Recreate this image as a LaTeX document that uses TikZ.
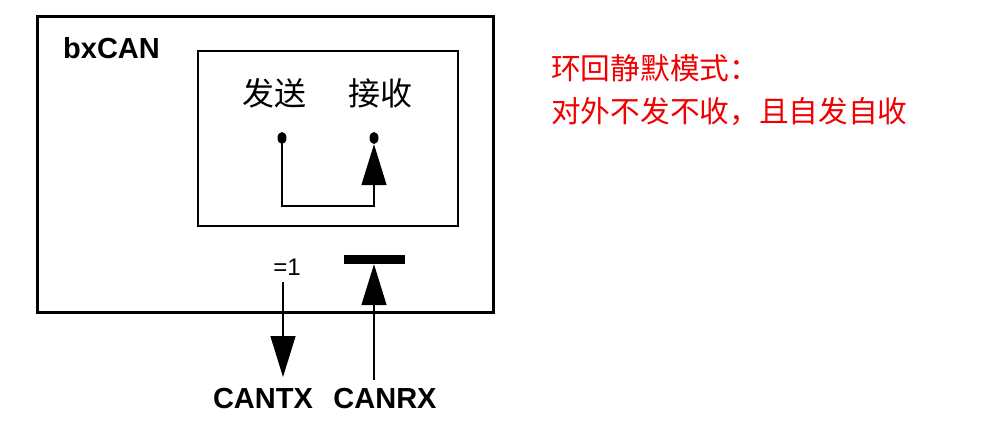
\documentclass[tikz,border=0pt]{standalone}
\usepackage{fontspec}
\setmainfont{Liberation Sans}
\newfontfamily\cjk{Noto Sans CJK SC}
\usetikzlibrary{arrows.meta,shapes.geometric}
\definecolor{notered}{RGB}{240,0,0}
\tikzset{
  outerbox/.style={draw=black, line width=3pt},
  innerbox/.style={draw=black, line width=1.4pt},
  wire/.style={draw=black, line width=1.4pt},
  bigtip/.style={-{Triangle[length=41pt,width=25pt]}},
  dotnode/.style={ellipse, fill=black, minimum width=9pt, minimum height=12pt, inner sep=0pt},
  lbl/.style={font=\fontsize{29}{32}\selectfont\bfseries, inner sep=0pt},
  cjklbl/.style={font=\cjk\fontsize{32}{36}\selectfont, inner sep=0pt},
  note/.style={font=\cjk\fontsize{29.7}{43}\selectfont, text=notered, align=left, inner sep=0pt},
  barnode/.style={fill=black, minimum width=61pt, minimum height=9pt, inner sep=0pt}
}
\begin{document}
\begin{tikzpicture}[x=1pt,y=-1pt]
\useasboundingbox (0,0) rectangle (1006,422);
% boxes
\node[outerbox, minimum width=456pt, minimum height=295pt, inner sep=0pt] (outer) at (265,164.5) {};
\node[innerbox, minimum width=260pt, minimum height=175pt, inner sep=0pt] (inner) at (328,138.5) {};
% labels
\node[lbl, anchor=base west] (bx) at (63,59) {bxCAN};
\node[cjklbl] (send) at (274,93) {发送};
\node[cjklbl] (recv) at (380,93) {接收};
% dots
\node[dotnode] (sd) at (282,138) {};
\node[dotnode] (rd) at (374,138) {};
\coordinate (loopc) at (282,206);
\draw[wire] (sd.center) -- (loopc) -| (374,188);
\draw[wire, bigtip] (374,200) -- (rd.south);
% =1
\node[font=\fontsize{24}{26}\selectfont, inner sep=0pt, anchor=base] (eq) at (287,275) {=1};
\coordinate (txtop) at (283,282);
\node[lbl, anchor=base] (cantx) at (263,408) {CANTX};
\node[lbl, anchor=base] (canrx) at (385,408) {CANRX};
\coordinate (txend) at (283,377);
\draw[wire, bigtip] (txtop) -- (txend);
% RX bar
\node[barnode] (bar) at (374,259.5) {};
\coordinate (rxbot) at (374,380);
\draw[wire, bigtip] (rxbot) -- (bar.south);
% note
\node[note, anchor=north west] (nt) at (551,54) {环回静默模式：\\对外不发不收，且自发自收};
\end{tikzpicture}
\end{document}
